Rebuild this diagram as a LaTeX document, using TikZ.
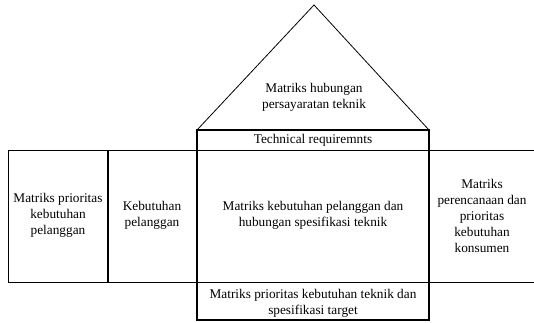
\documentclass[tikz,border=0pt]{standalone}
\usepackage{fontspec}
\setmainfont{Liberation Serif}
\begin{document}
\begin{tikzpicture}[x=1pt,y=-1pt,
  thin line/.style={line width=0.8pt},
  thick line/.style={line width=1.7pt},
  lbl/.style={align=center,inner sep=0pt,font=\fontsize{13.3}{16}\selectfont}]
\useasboundingbox (0,0) rectangle (534,322);
% coordinates
\coordinate (apex) at (314,5);
\coordinate (bl) at (197,130);
\coordinate (br) at (429,130);
\coordinate (ml) at (197,320);
\coordinate (mr) at (429,320);
\coordinate (h1l) at (8,150);
\coordinate (h1r) at (534,150);
\coordinate (h2l) at (8,282);
\coordinate (h2r) at (534,282);
\coordinate (d1) at (108,150);
\coordinate (d2) at (108,282);
% roof
\draw[thin line] (bl) -- (apex) -- (br);
% horizontal lines and left border
\draw[thin line] (h1r) -- (h1l) -- (h2l) -- (h2r);
% divider
\draw[thick line] (d1) -- (d2);
% central box
\draw[thick line] (bl) rectangle (mr);
% texts
\node[lbl] (roof) at (314,97) {Matriks hubungan\\persayaratan teknik};
\node[lbl] (tech) at (313,140) {Technical requiremnts};
\node[lbl] (left) at (58,215) {Matriks prioritas\\kebutuhan\\pelanggan};
\node[lbl] (keb) at (152,215) {Kebutuhan\\pelanggan};
\node[lbl] (mid) at (313,215) {Matriks kebutuhan pelanggan dan\\hubungan spesifikasi teknik};
\node[lbl] (right) at (482,216) {Matriks\\perencanaan dan\\prioritas\\kebutuhan\\konsumen};
\node[lbl] (bot) at (313,303) {Matriks prioritas kebutuhan teknik dan\\spesifikasi target};
\end{tikzpicture}
\end{document}
